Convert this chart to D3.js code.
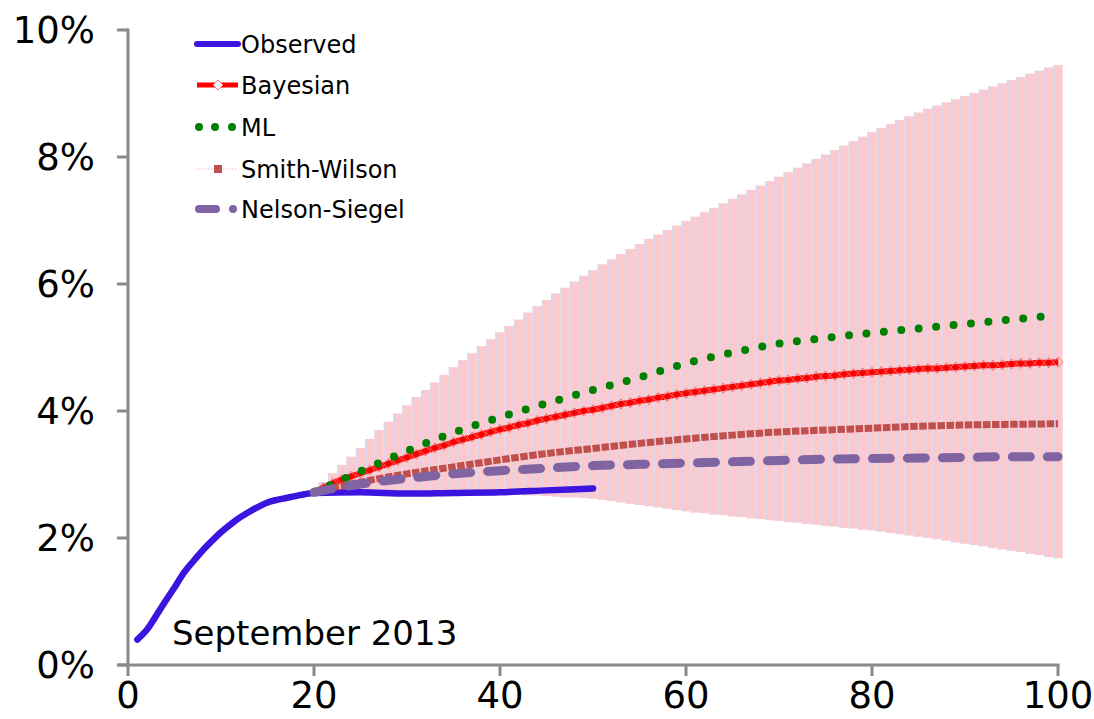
<!DOCTYPE html>
<html>
<head>
<meta charset="utf-8">
<script src="https://cdn.jsdelivr.net/npm/d3@7"></script>
<style>
  body { margin: 0; background: #fff; }
  text { font-family: "DejaVu Sans", Verdana, sans-serif; fill: #000; }
</style>
</head>
<body>
<svg id="chart" width="1094" height="719"></svg>
<script>
// Observed yield curve (maturity in years, yield in %)
const obsYears  = [1, 2, 3, 4, 5, 6, 7, 8, 9, 10, 11, 12, 13, 14, 15, 16, 17, 18, 19, 20, 25, 30, 35, 40, 45, 50];
const obsValues = [0.40, 0.55, 0.77, 1.00, 1.22, 1.45, 1.63, 1.80, 1.95, 2.09, 2.21, 2.32, 2.41, 2.49, 2.56, 2.60, 2.63, 2.66, 2.69, 2.71, 2.72, 2.70, 2.71, 2.72, 2.75, 2.78];

// Bayesian credible band, one bar per maturity 21..100
const bandYears = d3.range(21, 101);
const bandUpper = [2.88, 3.02, 3.15, 3.28, 3.42, 3.56, 3.70, 3.83, 3.96, 4.09,
                   4.22, 4.33, 4.45, 4.57, 4.69, 4.80, 4.91, 5.02, 5.13, 5.24,
                   5.34, 5.44, 5.55, 5.65, 5.75, 5.85, 5.94, 6.04, 6.13, 6.22,
                   6.31, 6.39, 6.47, 6.55, 6.63, 6.71, 6.78, 6.85, 6.92, 6.99,
                   7.06, 7.13, 7.20, 7.27, 7.34, 7.41, 7.48, 7.55, 7.62, 7.69,
                   7.76, 7.83, 7.90, 7.97, 8.04, 8.11, 8.18, 8.25, 8.32, 8.39,
                   8.46, 8.52, 8.58, 8.64, 8.70, 8.76, 8.81, 8.86, 8.91, 8.96,
                   9.01, 9.06, 9.11, 9.16, 9.21, 9.26, 9.31, 9.36, 9.41, 9.45];
const bandLower = [2.70, 2.70, 2.70, 2.70, 2.70, 2.70, 2.70, 2.70, 2.70, 2.70,
                   2.70, 2.70, 2.70, 2.70, 2.70, 2.70, 2.69, 2.69, 2.69, 2.69,
                   2.68, 2.68, 2.67, 2.67, 2.66, 2.65, 2.64, 2.64, 2.63, 2.62,
                   2.60, 2.58, 2.56, 2.54, 2.52, 2.50, 2.48, 2.46, 2.44, 2.42,
                   2.40, 2.39, 2.37, 2.36, 2.34, 2.33, 2.31, 2.30, 2.28, 2.27,
                   2.25, 2.24, 2.22, 2.21, 2.19, 2.18, 2.16, 2.15, 2.13, 2.12,
                   2.10, 2.08, 2.06, 2.04, 2.02, 2.00, 1.98, 1.96, 1.93, 1.91,
                   1.89, 1.87, 1.84, 1.82, 1.80, 1.78, 1.75, 1.73, 1.70, 1.68];

// Bayesian posterior mean, maturities 20..100
const bayesYears  = d3.range(20, 101);
const bayesValues = [2.72, 2.79, 2.86, 2.92, 2.97, 3.02, 3.07, 3.12, 3.17, 3.22,
                     3.27, 3.32, 3.37, 3.42, 3.46, 3.51, 3.55, 3.59, 3.63, 3.67,
                     3.71, 3.74, 3.78, 3.81, 3.85, 3.88, 3.91, 3.94, 3.97, 4.00,
                     4.02, 4.05, 4.08, 4.11, 4.13, 4.16, 4.18, 4.21, 4.23, 4.26,
                     4.28, 4.30, 4.32, 4.34, 4.36, 4.38, 4.40, 4.42, 4.44, 4.46,
                     4.48, 4.49, 4.51, 4.52, 4.54, 4.55, 4.56, 4.58, 4.59, 4.60,
                     4.61, 4.62, 4.63, 4.64, 4.65, 4.66, 4.67, 4.67, 4.68, 4.69,
                     4.70, 4.71, 4.72, 4.72, 4.73, 4.74, 4.75, 4.75, 4.76, 4.76, 4.77];

// Maximum-likelihood and Smith-Wilson extrapolations
const fitYears = [20, 22, 25, 30, 35, 40, 45, 50, 55, 60, 65, 70, 75, 80, 85, 90, 95, 100];
const mlValues = [2.72, 2.85, 3.05, 3.37, 3.66, 3.90, 4.12, 4.33, 4.53, 4.75, 4.92, 5.06, 5.15, 5.23, 5.30, 5.37, 5.44, 5.51];
const swValues = [2.72, 2.79, 2.88, 3.01, 3.12, 3.23, 3.33, 3.41, 3.49, 3.56, 3.62, 3.67, 3.70, 3.73, 3.76, 3.78, 3.79, 3.80];

// Nelson-Siegel fit
const nsYears  = [20, 25, 30, 35, 40, 45, 50, 55, 60, 65, 70, 75, 80, 85, 90, 95, 100];
const nsValues = [2.72, 2.85, 2.94, 3.01, 3.06, 3.10, 3.14, 3.16, 3.18, 3.20, 3.22, 3.24, 3.25, 3.26, 3.27, 3.28, 3.28];

const xTicks = [0, 20, 40, 60, 80, 100];
const yTicks = [0, 2, 4, 6, 8, 10];
const legendLabels = ["Observed", "Bayesian", "ML", "Smith-Wilson", "Nelson-Siegel"];
const noteText = "September 2013";

const svg = d3.select("#chart");
const x = d3.scaleLinear().domain([0, 100]).range([128, 1058]);
const y = d3.scaleLinear().domain([0, 10]).range([665, 30]);
const axisColor = "#8a8a8a";

// --- credible band as adjacent vertical bars ---
const step = x(1) - x(0);
const band = svg.append("g");
bandYears.forEach((yr, i) => {
  const top = y(bandUpper[i]), bot = y(bandLower[i]);
  band.append("rect")
    .attr("x", x(yr) - step / 2).attr("y", top)
    .attr("width", step).attr("height", bot - top)
    .attr("fill", "#fbc9ce");
  band.append("rect")
    .attr("x", x(yr) - step / 2).attr("y", top)
    .attr("width", 2).attr("height", bot - top)
    .attr("fill", "#ddd5ea");
});

// --- axes ---
const axes = svg.append("g").attr("stroke", axisColor).attr("stroke-width", 3).attr("fill", "none");
axes.append("line").attr("x1", x(0)).attr("x2", x(0)).attr("y1", y(10) - 1.5).attr("y2", y(0));
axes.append("line").attr("x1", x(0) - 11).attr("x2", x(100) + 1.5).attr("y1", y(0)).attr("y2", y(0));
yTicks.forEach(t => {
  axes.append("line").attr("x1", x(0) - 11).attr("x2", x(0)).attr("y1", y(t)).attr("y2", y(t));
});
xTicks.forEach(t => {
  axes.append("line").attr("x1", x(t)).attr("x2", x(t)).attr("y1", y(0)).attr("y2", y(0) + 11);
});

svg.append("g").selectAll("text").data(yTicks).join("text")
  .attr("x", 95).attr("y", d => y(d) + 13)
  .attr("text-anchor", "end").attr("font-size", 37)
  .text(d => d + "%");

svg.append("g").selectAll("text").data(xTicks).join("text")
  .attr("x", d => x(d)).attr("y", 708)
  .attr("text-anchor", "middle").attr("font-size", 37)
  .text(d => d);

// --- series ---
const line = (xs, vs, curve) => d3.line().curve(curve || d3.curveMonotoneX)
  .x((d, i) => x(xs[i])).y(d => y(d))(vs);

svg.append("path").attr("d", line(obsYears, obsValues))
  .attr("fill", "none").attr("stroke", "#3b14e0").attr("stroke-width", 6.5)
  .attr("stroke-linecap", "round").attr("stroke-linejoin", "round");

svg.append("path").attr("d", line(bayesYears, bayesValues))
  .attr("fill", "none").attr("stroke", "#ff0000").attr("stroke-width", 6)
  .attr("stroke-linejoin", "round");

const diamond = (cx, cy, r) => `M${cx},${cy - r}L${cx + r},${cy}L${cx},${cy + r}L${cx - r},${cy}Z`;
const marks = svg.append("g");
bayesYears.forEach((yr, i) => {
  if (yr === bayesYears[0]) return;
  const cx = x(yr), cy = y(bayesValues[i]);
  marks.append("path").attr("d", diamond(cx, cy, 5))
    .attr("fill", "none").attr("stroke", "#ff7070").attr("stroke-width", 0.9);
  marks.append("path").attr("d", `M${cx},${cy - 5}V${cy + 5}`)
    .attr("stroke", "#5a2020").attr("stroke-width", 0.7).attr("opacity", 0.35);
});

svg.append("path").attr("d", line(fitYears, mlValues))
  .attr("fill", "none").attr("stroke", "#008000").attr("stroke-width", 8)
  .attr("stroke-linecap", "round").attr("stroke-dasharray", "0,17.5");

svg.append("path").attr("d", line(fitYears, swValues))
  .attr("fill", "none").attr("stroke", "#c0504d").attr("stroke-width", 7)
  .attr("stroke-dasharray", "7.5,1.6");

svg.append("path").attr("d", line(nsYears, nsValues))
  .attr("fill", "none").attr("stroke", "#8064a2").attr("stroke-width", 9)
  .attr("stroke-linecap", "round").attr("stroke-dasharray", "18,17");

// --- legend ---
const lg = svg.append("g");
const rows = [44, 85, 127, 169, 209];
lg.append("line").attr("x1", 197).attr("x2", 238).attr("y1", rows[0]).attr("y2", rows[0])
  .attr("stroke", "#3b14e0").attr("stroke-width", 6).attr("stroke-linecap", "round");
lg.append("line").attr("x1", 197).attr("x2", 238).attr("y1", rows[1]).attr("y2", rows[1])
  .attr("stroke", "#ff0000").attr("stroke-width", 5);
lg.append("path").attr("d", diamond(218, rows[1], 5)).attr("fill", "#fff")
  .attr("stroke", "#ff6a6a").attr("stroke-width", 1);
[199, 215, 232].forEach(cx => lg.append("circle").attr("cx", cx).attr("cy", rows[2]).attr("r", 4).attr("fill", "#008000"));
lg.append("line").attr("x1", 196).attr("x2", 238).attr("y1", rows[3]).attr("y2", rows[3])
  .attr("stroke", "#f4b8bc").attr("stroke-width", 1).attr("stroke-dasharray", "1.5,1.5");
lg.append("rect").attr("x", 214).attr("y", rows[3] - 4).attr("width", 8).attr("height", 8).attr("fill", "#c0504d");
lg.append("line").attr("x1", 199).attr("x2", 216).attr("y1", rows[4]).attr("y2", rows[4])
  .attr("stroke", "#8064a2").attr("stroke-width", 8).attr("stroke-linecap", "round");
lg.append("circle").attr("cx", 233).attr("cy", rows[4]).attr("r", 4).attr("fill", "#8064a2");
legendLabels.forEach((t, i) => {
  lg.append("text").attr("x", 241).attr("y", rows[i] + 8.5).attr("font-size", 24).text(t);
});

svg.append("text").attr("x", 172).attr("y", 645).attr("font-size", 34).text(noteText);
</script>
</body>
</html>
